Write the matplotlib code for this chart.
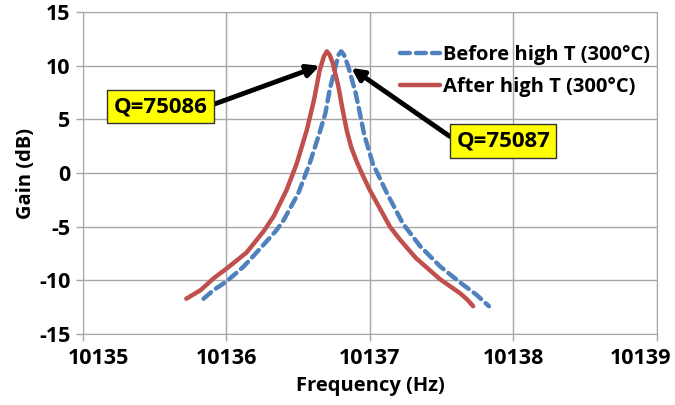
import matplotlib
matplotlib.use('Agg')
import matplotlib.pyplot as plt
import matplotlib.transforms as mtransforms

# data
freq_before = [10135.84, 10135.91, 10136.00, 10136.12, 10136.23, 10136.35, 10136.40,
               10136.50, 10136.58, 10136.65, 10136.69, 10136.72, 10136.76, 10136.78,
               10136.80, 10136.82, 10136.85, 10136.90, 10136.93, 10136.96, 10137.02,
               10137.12, 10137.23, 10137.35, 10137.49, 10137.63, 10137.74, 10137.83]
gain_before = [-11.7, -10.9, -10.1, -8.7, -7.1, -5.3, -4.35,
               -1.9, 0.9, 3.8, 5.6, 7.8, 9.9, 11.0,
               11.35, 11.0, 9.9, 7.5, 5.6, 3.6, 0.9,
               -1.9, -4.7, -6.8, -8.7, -10.2, -11.3, -12.4]

freq_after = [10135.72, 10135.82, 10135.91, 10136.00, 10136.14, 10136.26, 10136.33,
              10136.42, 10136.49, 10136.56, 10136.61, 10136.65, 10136.68, 10136.70,
              10136.72, 10136.74, 10136.78, 10136.81, 10136.84, 10136.87, 10136.91,
              10136.95, 10137.00, 10137.14, 10137.21, 10137.32, 10137.49, 10137.63,
              10137.68, 10137.72]
gain_after = [-11.7, -10.9, -9.8, -8.9, -7.4, -5.4, -4.0,
              -1.55, 0.9, 4.0, 6.8, 9.6, 10.9, 11.35,
              11.0, 10.3, 8.1, 5.9, 3.9, 2.4, 1.0,
              -0.2, -1.6, -5.0, -6.2, -7.9, -9.9, -11.2,
              -11.8, -12.4]

labels = ['Before high T (300°C)', 'After high T (300°C)']
q_labels = ['Q=75086', 'Q=75087']

xticks = [10135, 10136, 10137, 10138, 10139]
yticks = [-15, -10, -5, 0, 5, 10, 15]

plt.rcParams['font.family'] = ['Open Sans', 'DejaVu Sans']
plt.rcParams['font.weight'] = 'bold'
plt.rcParams['axes.unicode_minus'] = False

fig = plt.figure(figsize=(6.75, 4.05), dpi=100)
ax = fig.add_axes([0.123, 0.175, 0.85, 0.795])

grid_c = '#a6a6a6'
ax.plot(freq_before, gain_before, color='#4f81bd', lw=3.2, dashes=(2.2, 1.4),
        dash_capstyle='round', label=labels[0], zorder=3)
ax.plot(freq_after, gain_after, color='#c0504d', lw=3.2, solid_capstyle='round',
        label=labels[1], zorder=3)

ax.set_xlim(xticks[0], xticks[-1])
ax.set_ylim(yticks[0], yticks[-1])
ax.set_xticks(xticks)
ax.set_yticks(yticks)
ax.set_xticklabels([str(v) for v in xticks])
ax.grid(True, color=grid_c, lw=1)
ax.set_axisbelow(True)
for s in ax.spines.values():
    s.set_color(grid_c)
ax.tick_params(axis='both', colors=grid_c, length=5, width=1, labelcolor='black',
               labelsize=15.5, pad=4)
ax.tick_params(axis='x', pad=5)

# excel pulls the end labels inwards so they fit
xl = ax.get_xticklabels()
xl[0].set_transform(xl[0].get_transform() + mtransforms.ScaledTranslation(0.15, 0, fig.dpi_scale_trans))
xl[-1].set_transform(xl[-1].get_transform() + mtransforms.ScaledTranslation(-0.16, 0, fig.dpi_scale_trans))

ax.set_xlabel('Frequency (Hz)', fontsize=14.5, fontweight='bold', labelpad=5)
ax.set_ylabel('Gain (dB)', fontsize=14.5, fontweight='bold', labelpad=2)

leg = ax.legend(loc='upper left', bbox_to_anchor=(400 / 675, 1 - 45 / 405),
                bbox_transform=fig.transFigure, frameon=False, fontsize=14.5,
                handlelength=2.0, handletextpad=0.15, labelspacing=0.6,
                borderpad=0, borderaxespad=0)

box = dict(boxstyle='square,pad=0.28', fc='#ffff00', ec='#333333', lw=1)
arrow = dict(arrowstyle='-|>', color='black', lw=3.5, mutation_scale=18,
             shrinkA=0, shrinkB=0)
ax.annotate(q_labels[0], xy=(10136.65, 10.0), xytext=(10135.54, 6.2),
            ha='center', va='center', fontsize=16, fontweight='bold', bbox=box,
            arrowprops=dict(arrow, relpos=(1, 0.5)), zorder=5)
ax.annotate(q_labels[1], xy=(10136.87, 9.8), xytext=(10137.93, 3.0),
            ha='center', va='center', fontsize=16, fontweight='bold', bbox=box,
            arrowprops=dict(arrow, relpos=(0, 0.5)), zorder=5)

fig.savefig('out.png', dpi=100)
